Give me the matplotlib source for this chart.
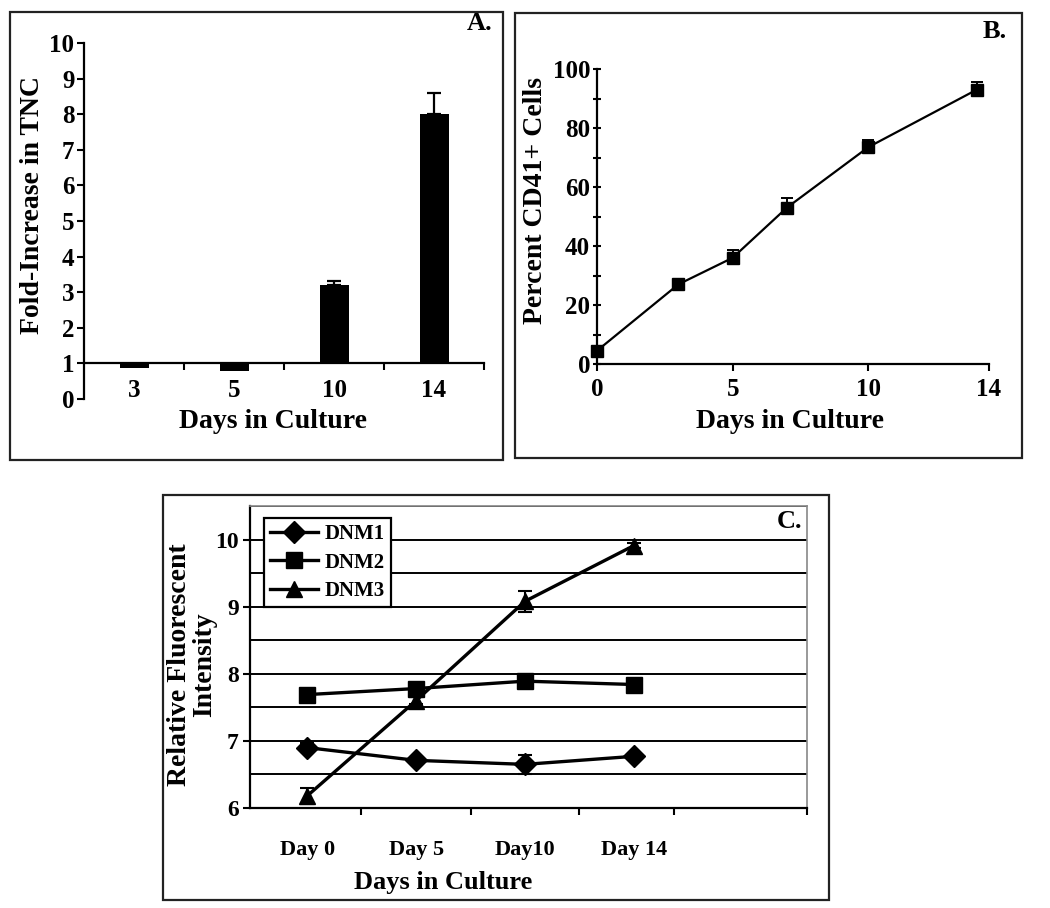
import matplotlib
matplotlib.use("Agg")
import matplotlib.pyplot as plt
import numpy as np
from matplotlib.patches import Rectangle
from matplotlib.lines import Line2D
from matplotlib.ticker import FixedLocator, MultipleLocator

plt.rcParams['font.family'] = ['Liberation Serif', 'DejaVu Serif']
plt.rcParams['font.weight'] = 'bold'

# ---------------- data ----------------
# Panel A
a_days = ['3', '5', '10', '14']
a_fold = [0.87, 0.78, 3.20, 8.00]
a_err = [0.0, 0.0, 0.11, 0.60]

# Panel B
b_days = [0, 3, 5, 7, 10, 14]
b_pct = [4.5, 27.0, 36.0, 53.0, 73.5, 93.0]
b_err = [0.5, 0.5, 2.5, 3.3, 2.4, 2.7]
b_xticks = [0, 5, 10, 14.45]
b_xticklabels = ['0', '5', '10', '14']

# Panel C
c_days = ['Day 0', 'Day 5', 'Day10', 'Day 14']
c_dnm1 = [6.90, 6.71, 6.65, 6.77]
c_dnm1_err = [0.07, 0.02, 0.14, 0.03]
c_dnm2 = [7.69, 7.78, 7.89, 7.84]
c_dnm2_err = [0.03, 0.05, 0.05, 0.03]
c_dnm3 = [6.18, 7.60, 9.08, 9.91]
c_dnm3_err = [0.12, 0.05, 0.16, 0.04]

W, H = 1050, 908
fig = plt.figure(figsize=(W / 100, H / 100), dpi=100)


def fx(px):
    return px / W


def fy(py):
    return 1 - py / H


def axrect(l, t, r, b):
    return [fx(l), fy(b), fx(r) - fx(l), (b - t) / H]


def box(l, t, r, b, color='#222222', lw=1.6):
    fig.patches.append(Rectangle((fx(l), fy(b)), fx(r) - fx(l), (b - t) / H,
                                 transform=fig.transFigure, fill=False,
                                 edgecolor=color, linewidth=lw, zorder=0))


box(10, 12, 503, 460)
box(515, 13, 1022, 458)
box(163, 495, 829, 900)

# ---------------- Panel A ----------------
axA = fig.add_axes(axrect(84, 43, 484, 399))
posA = np.arange(len(a_days)) + 0.5
heights = [v - 1 for v in a_fold]
axA.bar(posA, heights, bottom=1, width=0.29, color='black', zorder=2)
errx = [p for p, e in zip(posA, a_err) if e > 0]
erry = [v for v, e in zip(a_fold, a_err) if e > 0]
erre = [e for e in a_err if e > 0]
axA.errorbar(errx, erry, yerr=[np.zeros(len(erre)), erre], fmt='none',
             ecolor='black', elinewidth=1.6, capsize=5, capthick=1.6, zorder=1)
axA.set_xlim(0, 4)
axA.set_ylim(0, 10)
axA.spines['top'].set_visible(False)
axA.spines['right'].set_visible(False)
axA.spines['bottom'].set_position(('data', 1))
axA.spines['left'].set_linewidth(1.6)
axA.spines['bottom'].set_linewidth(1.6)
axA.set_yticks(range(0, 11))
axA.tick_params(axis='y', direction='out', length=5, width=1.5, labelsize=18, pad=2)
axA.set_xticks(posA)
axA.set_xticklabels(a_days)
axA.xaxis.set_minor_locator(FixedLocator([1, 2, 3, 4]))
axA.tick_params(axis='x', which='major', length=0, labelsize=18, pad=11)
axA.tick_params(axis='x', which='minor', direction='out', length=5, width=1.5)
for lab in axA.get_xticklabels() + axA.get_yticklabels():
    lab.set_fontweight('bold')
fig.text(fx(273), fy(422), 'Days in Culture', ha='center', va='center',
         fontsize=20, fontweight='bold')
fig.text(fx(33), fy(205), 'Fold-Increase in TNC', ha='center', va='center',
         rotation=90, fontsize=20, fontweight='bold')
fig.text(fx(480), fy(24), 'A.', ha='center', va='center', fontsize=19,
         fontweight='bold')

# ---------------- Panel B ----------------
axB = fig.add_axes(axrect(597, 69, 989, 364))
axB.errorbar(b_days, b_pct, yerr=[np.zeros(len(b_err)), b_err], color='black',
             lw=1.6, marker='s', markersize=9, ecolor='black', elinewidth=1.4,
             capsize=4, capthick=1.4, zorder=3, clip_on=False)
axB.set_xlim(0, 14.45)
axB.set_ylim(0, 100)
axB.spines['top'].set_visible(False)
axB.spines['right'].set_visible(False)
axB.spines['left'].set_linewidth(1.6)
axB.spines['bottom'].set_linewidth(1.6)
axB.set_yticks(range(0, 101, 20))
axB.yaxis.set_minor_locator(MultipleLocator(10))
axB.tick_params(axis='y', which='both', direction='inout', length=6, width=1.5,
                labelsize=18, pad=2)
axB.set_xticks(b_xticks)
axB.set_xticklabels(b_xticklabels)
axB.tick_params(axis='x', direction='out', length=5, width=1.5, labelsize=18, pad=5)
for lab in axB.get_xticklabels() + axB.get_yticklabels():
    lab.set_fontweight('bold')
fig.text(fx(790), fy(421), 'Days in Culture', ha='center', va='center',
         fontsize=20, fontweight='bold')
fig.text(fx(535), fy(201), 'Percent CD41+ Cells', ha='center', va='center',
         rotation=90, fontsize=20, fontweight='bold')
fig.text(fx(995), fy(32), 'B.', ha='center', va='center', fontsize=19,
         fontweight='bold')

# ---------------- Panel C ----------------
axC = fig.add_axes(axrect(250, 506, 807, 808))
xc = np.arange(len(c_days))
styles = [('DNM1', c_dnm1, c_dnm1_err, 'D', 11),
          ('DNM2', c_dnm2, c_dnm2_err, 's', 11),
          ('DNM3', c_dnm3, c_dnm3_err, '^', 11)]
handles = []
for name, vals, errs, mk, ms in styles:
    axC.errorbar(xc, vals, yerr=errs, color='black', lw=2.4, marker=mk,
                 markersize=ms, ecolor='black', elinewidth=1.5, capsize=5,
                 capthick=1.5, zorder=3)
    handles.append(Line2D([], [], color='black', lw=2.4, marker=mk,
                          markersize=ms, label=name))
axC.set_xlim(-0.525, 4.59)
axC.set_ylim(6, 10.5)
axC.set_yticks([6, 7, 8, 9, 10])
axC.yaxis.set_minor_locator(MultipleLocator(0.5))
axC.grid(axis='y', which='both', color='black', linewidth=1.4, zorder=0)
axC.set_axisbelow(True)
for s in ['top', 'right']:
    axC.spines[s].set_color('#888888')
    axC.spines[s].set_linewidth(1.2)
for s in ['left', 'bottom']:
    axC.spines[s].set_color('black')
    axC.spines[s].set_linewidth(1.6)
axC.tick_params(axis='y', which='major', direction='out', length=5, width=1.5,
                labelsize=17, pad=3)
axC.tick_params(axis='y', which='minor', length=0)
axC.set_xticks(xc)
axC.set_xticklabels(c_days)
axC.xaxis.set_minor_locator(FixedLocator([0.49, 1.5, 2.5, 3.37, 4.59]))
axC.tick_params(axis='x', which='major', length=0, labelsize=16, pad=23)
axC.tick_params(axis='x', which='minor', direction='out', length=5, width=1.5)
for lab in axC.get_xticklabels() + axC.get_yticklabels():
    lab.set_fontweight('bold')
leg = axC.legend(handles=handles, loc='upper left',
                 bbox_to_anchor=(fx(264), fy(518)),
                 bbox_transform=fig.transFigure, frameon=True, fancybox=False,
                 edgecolor='black', framealpha=1, fontsize=15, handlelength=2.3,
                 handletextpad=0.3, borderpad=0.3, labelspacing=0.4,
                 borderaxespad=0)
leg.get_frame().set_linewidth(1.6)
for t in leg.get_texts():
    t.set_fontweight('bold')
fig.text(fx(443), fy(883), 'Days in Culture', ha='center', va='center',
         fontsize=19, fontweight='bold')
fig.text(fx(192), fy(665), 'Relative Fluorescent\nIntensity', ha='center',
         va='center', rotation=90, fontsize=20, fontweight='bold',
         multialignment='center', linespacing=1.0)
fig.text(fx(790), fy(522), 'C.', ha='center', va='center', fontsize=19,
         fontweight='bold')

fig.savefig('out.png', dpi=100)
